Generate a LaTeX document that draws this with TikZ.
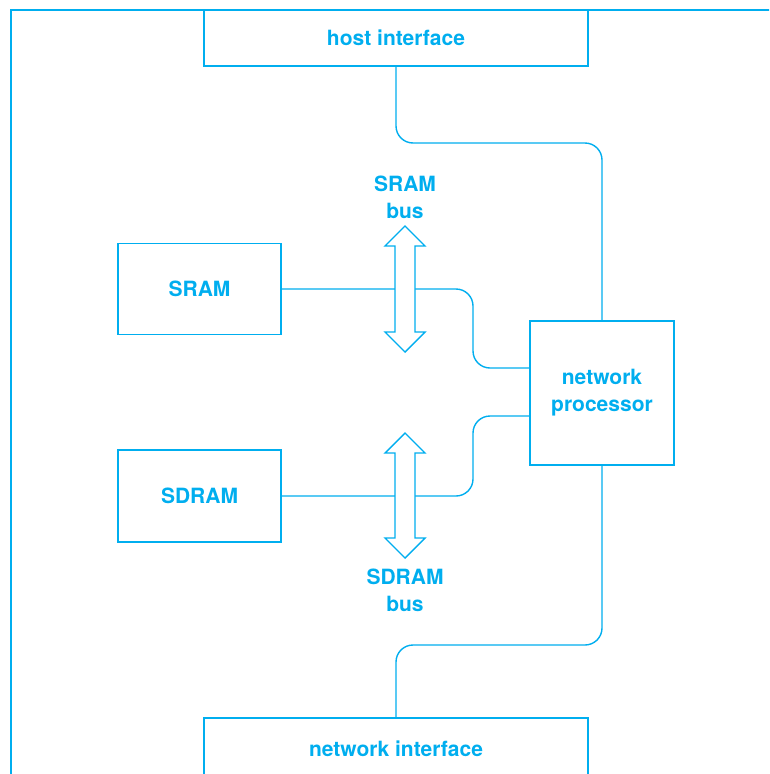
\documentclass[tikz,border=0pt]{standalone}
\usepackage{fontspec}
\setmainfont{TeX Gyre Heros}
\usepackage{xcolor}
\usepackage{tikz}
\definecolor{npblue}{RGB}{0,174,239}
\tikzset{
  blk/.style={draw=npblue,line width=1.4pt,text=npblue,font=\bfseries\fontsize{21}{27}\selectfont,align=center,inner sep=0pt},
  lnk/.style={draw=npblue,line width=1.4pt,rounded corners=17pt},
  frm/.style={draw=npblue,line width=2.8pt},
  lbl/.style={text=npblue,font=\bfseries\fontsize{21}{27}\selectfont,align=center}
}
\newcommand{\busarrow}[3]{\draw[npblue,line width=1.4pt,fill=white]
  (#1,#2) -- (#1+20,#2+20) -- (#1+10,#2+20) -- (#1+10,#3-20) -- (#1+20,#3-20) -- (#1,#3)
  -- (#1-20,#3-20) -- (#1-10,#3-20) -- (#1-10,#2+20) -- (#1-20,#2+20) -- cycle;}

\begin{document}
\begin{tikzpicture}[x=1pt,y=-1pt]
\clip (0,0) rectangle (769,774);
\fill[white] (0,0) rectangle (769,774);
\draw[frm] (11,10) rectangle (800,800);
\node[blk,minimum width=384pt,minimum height=56pt] (hi) at (396,38) {host interface};
\node[blk,minimum width=384pt,minimum height=62pt] (ni) at (396,749) {network interface};
\node[blk,minimum width=163pt,minimum height=91pt] (sram) at (199.5,289) {SRAM};
\node[blk,minimum width=163pt,minimum height=92pt] (sdram) at (199.5,496) {SDRAM};
\node[blk,minimum width=144pt,minimum height=144pt] (np) at (602,393) {network\\processor};
\node[lbl] (sbl) at (405,197) {SRAM\\bus};
\node[lbl] (dbl) at (405,590) {SDRAM\\bus};
\draw[lnk] (hi.south) -- (hi.south |- 0,143) -- (np.north |- 0,143) -- (np.north);
\draw[lnk] (np.south) -- (np.south |- 0,645) -- (ni.north |- 0,645) -- (ni.north);
\draw[lnk] (sram.east) -- (sram.east -| 473,0) -- (473,368) -- ([yshift=25pt]np.west);
\draw[lnk] (sdram.east) -- (sdram.east -| 473,0) -- (473,416) -- ([yshift=-23pt]np.west);
\busarrow{405}{226}{352}
\busarrow{405}{433}{558}
\end{tikzpicture}
\end{document}
